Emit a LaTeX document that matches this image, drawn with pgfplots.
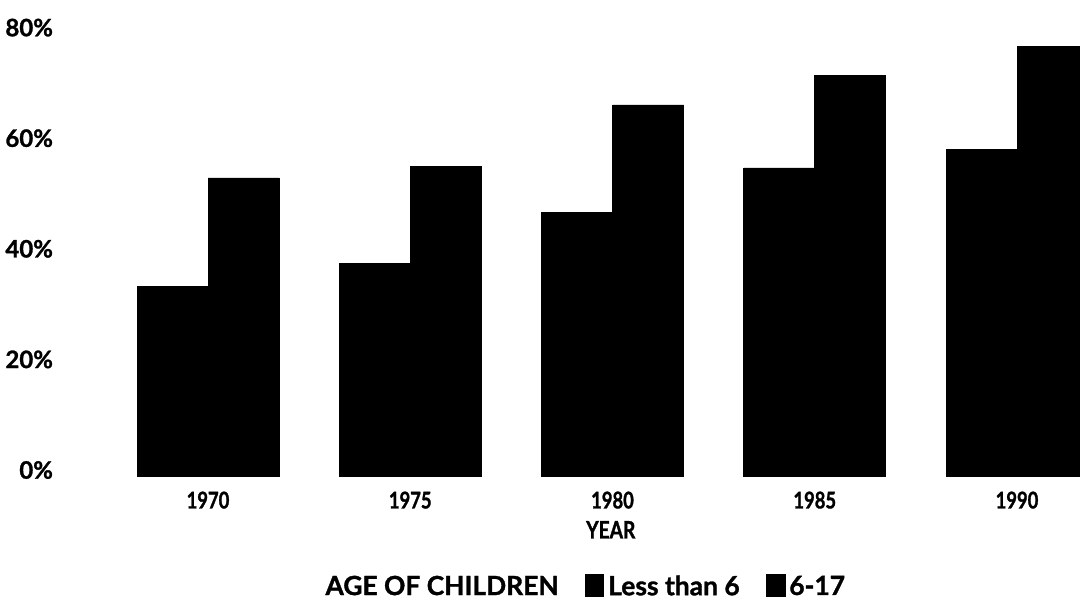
\documentclass[border=0pt]{standalone}
\usepackage{pgfplots}
\pgfplotsset{compat=1.18}
\usepackage{fontspec}
\setmainfont{Lato}[BoldFeatures={FakeBold=1.2}]
\newfontfamily\xtickfont{Lato}[FakeStretch=0.8, BoldFeatures={FakeBold=1.2}]
\begin{document}
\begin{tikzpicture}
\useasboundingbox (-30pt,-62.5pt) rectangle (510pt,238pt);
\begin{axis}[
  x=101.125pt, y=2.765pt,
  xmin=-0.7318, xmax=4.3115,
  ymin=0, ymax=86.08,
  ybar=0pt, bar width=0.351,
  axis line style={draw=none},
  tick style={draw=none},
  xtick={0,1,2,3,4},
  xticklabels={1970,1975,1980,1985,1990},
  ytick={0,20,40,60,80},
  yticklabels={0\%,20\%,40\%,60\%,80\%},
  yticklabel style={font=\bfseries\fontsize{12}{14}\selectfont, yshift=3pt},
  xticklabel style={font=\xtickfont\bfseries\fontsize{11.5}{13}\selectfont, yshift=0pt},
  xlabel={YEAR},
  xlabel style={font=\xtickfont\bfseries\fontsize{12}{14}\selectfont, at={(axis description cs:0.54,-0.113)}, anchor=center},
  legend columns=-1,
  legend style={draw=none, fill=none, font=\bfseries\fontsize{13.2}{15}\selectfont,
    at={(axis description cs:0.515,-0.233)}, anchor=center,
    /tikz/every even column/.append style={column sep=11pt}},
  legend image code/.code={\fill[#1] (0cm,-0.16cm) rectangle (0.33cm,0.22cm);},
  /pgf/number format/assume math mode=true,
]
\addlegendimage{empty legend}
\addlegendentry{AGE OF CHILDREN}
\addplot[fill=black, draw=black, line width=0.4pt] coordinates {(0,34.2) (1,38.5) (2,47.7) (3,55.7) (4,59.0)};
\addlegendentry{Less than 6}
\addplot[fill=black, draw=black, line width=0.4pt] coordinates {(0,53.9) (1,55.9) (2,67.1) (3,72.5) (4,77.6)};
\addlegendentry{6-17}
\end{axis}
\end{tikzpicture}
\end{document}
